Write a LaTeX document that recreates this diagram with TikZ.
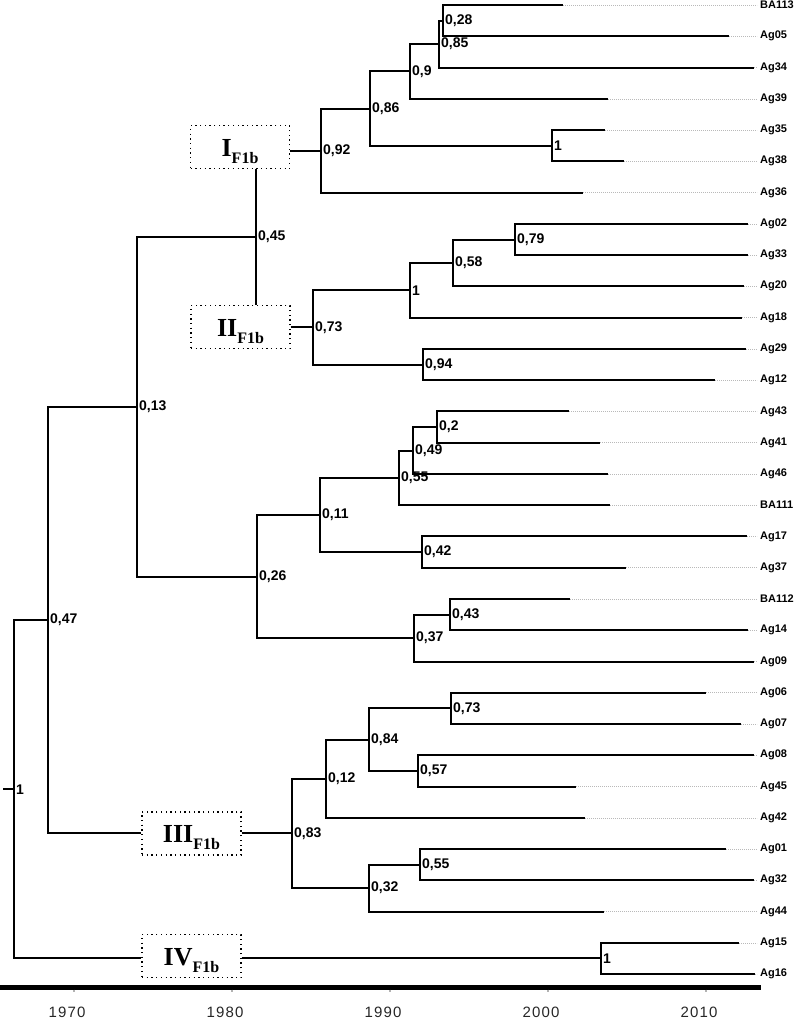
\documentclass[tikz,border=0pt]{standalone}
\usepackage{fontspec}
\setmainfont{Liberation Sans}
\newfontfamily\boxfont{Liberation Serif}
\newcommand\mkleaf[4]{\coordinate (#1) at (#2,#3);
  \node[leaflabel] (#1L) at (760,#3) {#4};
  \draw[dotline] (#1) -- ([xshift=-3pt]#1L.west);}
\newcommand\mknode[4]{\coordinate (#1) at (#2,#3);
  \node[sup] (#1T) at (#1) {#4};}
\newcommand\cladetext[1]{{\boxfont\bfseries\fontsize{26}{26}\selectfont #1}\raisebox{-6.5pt}{\boxfont\bfseries\fontsize{16}{16}\selectfont F1b}}
\begin{document}
\begin{tikzpicture}[x=1pt,y=-1pt,
  br/.style={line width=2pt},
  dotline/.style={draw=gray!55, line width=0.5pt, dash pattern=on 0.8pt off 1.2pt},
  leaflabel/.style={anchor=west, inner sep=0pt, font=\bfseries\fontsize{11}{12}\selectfont},
  sup/.style={anchor=west, inner sep=0pt, xshift=2pt, font=\bfseries\fontsize{14}{14}\selectfont},
  clade/.style={draw, line width=1.3pt, dash pattern=on 1.3pt off 3.4pt, minimum width=99pt, minimum height=43pt, inner sep=0pt, text height=21pt, text depth=2pt},
  year/.style={inner sep=0pt, text=black!85, font=\fontsize{15}{15}\selectfont\addfontfeature{LetterSpace=8}},
  tick/.style={draw=gray!60, line width=1.5pt}]
\useasboundingbox (0,0) rectangle (798,1020);

% leaves
\mkleaf{BA113}{563}{5.0}{BA113}
\mkleaf{Ag05}{729}{36.3}{Ag05}
\mkleaf{Ag34}{754}{67.5}{Ag34}
\mkleaf{Ag39}{608}{98.8}{Ag39}
\mkleaf{Ag35}{605}{130.0}{Ag35}
\mkleaf{Ag38}{624}{161.3}{Ag38}
\mkleaf{Ag36}{583}{192.6}{Ag36}
\mkleaf{Ag02}{748}{223.8}{Ag02}
\mkleaf{Ag33}{748}{255.1}{Ag33}
\mkleaf{Ag20}{744}{286.3}{Ag20}
\mkleaf{Ag18}{742}{317.6}{Ag18}
\mkleaf{Ag29}{746}{348.9}{Ag29}
\mkleaf{Ag12}{715}{380.1}{Ag12}
\mkleaf{Ag43}{569}{411.4}{Ag43}
\mkleaf{Ag41}{600}{442.6}{Ag41}
\mkleaf{Ag46}{608}{473.9}{Ag46}
\mkleaf{BA111}{610}{505.2}{BA111}
\mkleaf{Ag17}{747}{536.4}{Ag17}
\mkleaf{Ag37}{626}{567.7}{Ag37}
\mkleaf{BA112}{570}{598.9}{BA112}
\mkleaf{Ag14}{748}{630.2}{Ag14}
\mkleaf{Ag09}{754}{661.5}{Ag09}
\mkleaf{Ag06}{706}{692.7}{Ag06}
\mkleaf{Ag07}{741}{724.0}{Ag07}
\mkleaf{Ag08}{754}{755.2}{Ag08}
\mkleaf{Ag45}{576}{786.5}{Ag45}
\mkleaf{Ag42}{585}{817.8}{Ag42}
\mkleaf{Ag01}{726}{849.0}{Ag01}
\mkleaf{Ag32}{754}{880.3}{Ag32}
\mkleaf{Ag44}{604}{911.5}{Ag44}
\mkleaf{Ag15}{739}{942.8}{Ag15}
\mkleaf{Ag16}{755}{974.1}{Ag16}

% internal nodes
\mknode{n028}{443}{20.65}{0,28}
\mknode{n085}{439}{44.1}{0,85}
\mknode{n09}{410}{71.4}{0,9}
\mknode{n1a}{552}{145.6}{1}
\mknode{n086}{370}{108.5}{0,86}
\mknode{n092}{321}{150.6}{0,92}
\mknode{n079}{515}{239.5}{0,79}
\mknode{n058}{453}{262.9}{0,58}
\mknode{n1b}{410}{290.2}{1}
\mknode{n094}{423}{364.5}{0,94}
\mknode{n073}{313}{327.4}{0,73}
\mknode{n045}{256}{237}{0,45}
\mknode{n02}{437}{427.0}{0,2}
\mknode{n049}{413}{450.5}{0,49}
\mknode{n055}{399}{477.8}{0,55}
\mknode{n042}{422}{552.1}{0,42}
\mknode{n011}{320}{514.9}{0,11}
\mknode{n043}{450}{614.6}{0,43}
\mknode{n037}{414}{638.0}{0,37}
\mknode{n026}{257}{576.5}{0,26}
\mknode{n013}{137}{406.8}{0,13}
\mknode{n073b}{451}{708.4}{0,73}
\mknode{n057}{418}{770.9}{0,57}
\mknode{n084}{369}{739.6}{0,84}
\mknode{n012}{326}{778.7}{0,12}
\mknode{n055b}{420}{864.7}{0,55}
\mknode{n032}{369}{888.1}{0,32}
\mknode{n083}{292}{833.4}{0,83}
\mknode{n047}{48}{620.1}{0,47}
\mknode{n1c}{601}{958.4}{1}
\mknode{root}{14}{789.3}{1}
\coordinate (rootstub) at (3,789.3);

% clade boxes
\node[clade] (boxI) at (240,147) {\cladetext{I}};
\node[clade] (boxII) at (240.5,327) {\cladetext{II}};
\node[clade] (boxIII) at (191.5,833.4) {\cladetext{III}};
\node[clade] (boxIV) at (191.5,956) {\cladetext{IV}};

% branches
\draw[br] (n028) |- (BA113);  \draw[br] (n028) |- (Ag05);
\draw[br] (n085) |- (n028);   \draw[br] (n085) |- (Ag34);
\draw[br] (n09) |- (n085);    \draw[br] (n09) |- (Ag39);
\draw[br] (n1a) |- (Ag35);    \draw[br] (n1a) |- (Ag38);
\draw[br] (n086) |- (n09);    \draw[br] (n086) |- (n1a);
\draw[br] (n092) |- (n086);   \draw[br] (n092) |- (Ag36);
\draw[br] (boxI.east |- n092) -- (n092);

\draw[br] (n079) |- (Ag02);   \draw[br] (n079) |- (Ag33);
\draw[br] (n058) |- (n079);   \draw[br] (n058) |- (Ag20);
\draw[br] (n1b) |- (n058);    \draw[br] (n1b) |- (Ag18);
\draw[br] (n094) |- (Ag29);   \draw[br] (n094) |- (Ag12);
\draw[br] (n073) |- (n1b);    \draw[br] (n073) |- (n094);
\draw[br] (boxII.east |- n073) -- (n073);

\draw[br] (boxI.south -| n045) -- (boxII.north -| n045);
\draw[br] (n013) |- (n045);

\draw[br] (n02) |- (Ag43);    \draw[br] (n02) |- (Ag41);
\draw[br] (n049) |- (n02);    \draw[br] (n049) |- (Ag46);
\draw[br] (n055) |- (n049);   \draw[br] (n055) |- (BA111);
\draw[br] (n042) |- (Ag17);   \draw[br] (n042) |- (Ag37);
\draw[br] (n011) |- (n055);   \draw[br] (n011) |- (n042);
\draw[br] (n043) |- (BA112);  \draw[br] (n043) |- (Ag14);
\draw[br] (n037) |- (n043);   \draw[br] (n037) |- (Ag09);
\draw[br] (n026) |- (n011);   \draw[br] (n026) |- (n037);
\draw[br] (n013) |- (n026);

\draw[br] (n073b) |- (Ag06);  \draw[br] (n073b) |- (Ag07);
\draw[br] (n057) |- (Ag08);   \draw[br] (n057) |- (Ag45);
\draw[br] (n084) |- (n073b);  \draw[br] (n084) |- (n057);
\draw[br] (n012) |- (n084);   \draw[br] (n012) |- (Ag42);
\draw[br] (n055b) |- (Ag01);  \draw[br] (n055b) |- (Ag32);
\draw[br] (n032) |- (n055b);  \draw[br] (n032) |- (Ag44);
\draw[br] (n083) |- (n012);   \draw[br] (n083) |- (n032);
\draw[br] (boxIII.east) -- (n083);

\draw[br] (n047) |- (n013);   \draw[br] (n047) |- (boxIII.west);
\draw[br] (n1c) |- (Ag15);    \draw[br] (n1c) |- (Ag16);
\draw[br] (boxIV.east |- n1c) -- (n1c);
\draw[br] (root) |- (n047);   \draw[br] (root) |- (boxIV.west |- n1c);
\draw[br] (rootstub) -- (root);

% time axis
\coordinate (axL) at (0,987);
\coordinate (axR) at (761,987);
\draw[line width=5pt] (axL) -- (axR);
\foreach \x/\yr/\tx in {74/1970/67, 232/1980/225, 390/1990/383, 548/2000/541, 706/2010/699} {
  \draw[tick] (\x,989.5) -- (\x,992);
  \node[year] (yr\yr) at (\tx,1012) {\yr};
}
\end{tikzpicture}
\end{document}
